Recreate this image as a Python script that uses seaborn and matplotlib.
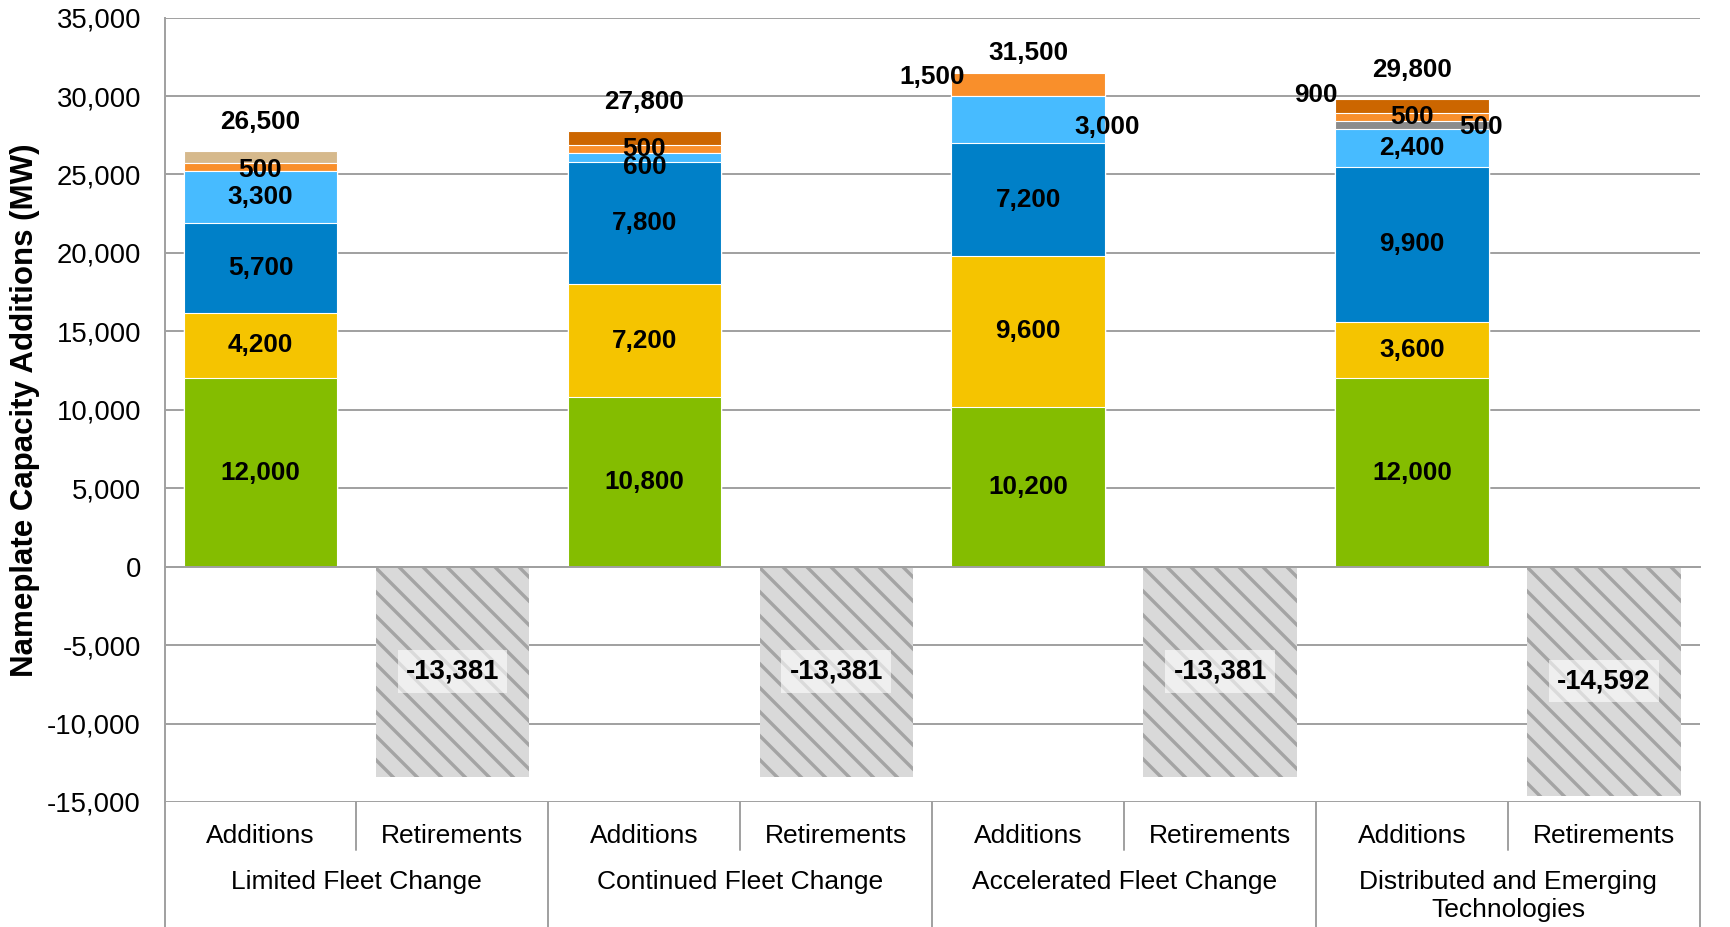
import matplotlib
matplotlib.use("Agg")
import matplotlib.pyplot as plt
import matplotlib.transforms as mtransforms
import pandas as pd
import seaborn as sns

# ---- data (MW) ----
scenarios = ["Limited Fleet Change", "Continued Fleet Change",
             "Accelerated Fleet Change", "Distributed and Emerging\nTechnologies"]
bar_kinds = ["Additions", "Retirements"]

# capacity additions, stacked bottom to top
wind = [12000, 10800, 10200, 12000]
solar = [4200, 7200, 9600, 3600]
combined_cycle = [5700, 7800, 7200, 9900]
combustion_turbine = [3300, 600, 3000, 2400]
storage = [0, 0, 0, 500]
demand_response = [500, 500, 1500, 500]
other_new = [0, 900, 0, 900]
uprates = [800, 0, 0, 0]
addition_totals = [26500, 27800, 31500, 29800]

retirements = [-13381, -13381, -13381, -14592]

y_ticks = list(range(-15000, 35001, 5000))

# ---- styling ----
layers = [wind, solar, combined_cycle, combustion_turbine, storage,
          demand_response, other_new, uprates]
layer_colors = ["#84bd00", "#f5c400", "#0080c8", "#47bbff", "#8c8c8c",
                "#f98f2b", "#cc6600", "#d6b98c"]
unlabeled = {(0, 7), (1, 6)}
# (scenario, layer): (dx in slots, dy in MW) nudges for crowded labels
label_nudge = {(0, 5): (0, -160), (1, 3): (0, -620),
               (2, 5): (-0.5, 460), (2, 3): (0.41, -470),
               (3, 6): (-0.5, 700), (3, 4): (0.36, -120)}
total_offset = [1840, 1800, 1240, 1890]

# rendered at 72 dpi so the hatch spacing is ~12 px; sizes below are given
# as if at 100 dpi and scaled by K
DPI = 72
K = 100 / DPI
FS_BAR = 18.8 * K
FS_TICK = 19.8 * K
FS_CAT = 19 * K
LW = 1.4 * K
GRID = "#a0a0a0"

sns.set_theme(style="white")
plt.rcParams["font.family"] = ["Liberation Sans", "DejaVu Sans"]
plt.rcParams["text.color"] = "black"
plt.rcParams["axes.unicode_minus"] = False
plt.rcParams["hatch.linewidth"] = 3.4

fig = plt.figure(figsize=(1730 / DPI, 927 / DPI), dpi=DPI)
ax = fig.add_axes([0.0951, 0.1349, 0.9827 - 0.0951, 0.981 - 0.1349])

slots = [f"{s}|{k}" for s in scenarios for k in bar_kinds]
add_slots = [f"{s}|Additions" for s in scenarios]
ret_slots = [f"{s}|Retirements" for s in scenarios]

# stacked additions: draw cumulative heights from the top layer down
cum = []
running = [0] * len(scenarios)
for vals in layers:
    running = [r + v for r, v in zip(running, vals)]
    cum.append(list(running))
for li in range(len(layers) - 1, -1, -1):
    df = pd.DataFrame({"slot": add_slots, "mw": cum[li]})
    sns.barplot(data=df, x="slot", y="mw", order=slots, color=layer_colors[li],
                saturation=1, width=0.8, errorbar=None, edgecolor="white",
                linewidth=0.8 * K, ax=ax, zorder=3)

# retirements, hatched
n_before = len(ax.patches)
df_ret = pd.DataFrame({"slot": ret_slots, "mw": retirements})
sns.barplot(data=df_ret, x="slot", y="mw", order=slots, color="#d9d9d9",
            saturation=1, width=0.8, errorbar=None, ax=ax, zorder=3)
for p in ax.patches[n_before:]:
    p.set_hatch("\\")
    p.set_edgecolor("#a4a4a4")
    p.set_linewidth(0)
    p.set_facecolor("#d9d9d9")

# ---- value labels ----
for si in range(len(scenarios)):
    x0 = 2 * si
    base = 0
    for li, vals in enumerate(layers):
        v = vals[si]
        if v and (si, li) not in unlabeled:
            dx, dy = label_nudge.get((si, li), (0, 0))
            ax.text(x0 + dx, base + v / 2 + dy, f"{v:,}", ha="center", va="center",
                    fontsize=FS_BAR, fontweight="bold", color="black", zorder=5)
        base += v
    ax.text(x0, addition_totals[si] + total_offset[si], f"{addition_totals[si]:,}",
            ha="center", va="center", fontsize=FS_BAR, fontweight="bold",
            color="black", zorder=5)
    r = retirements[si]
    ax.text(x0 + 1, r / 2, f"{r:,}", ha="center", va="center", fontsize=19.8 * K,
            fontweight="bold", color="black", zorder=5,
            bbox=dict(boxstyle="square,pad=0.3", fc="white", ec="none", alpha=0.6))

# ---- axes ----
ax.set_ylim(-15000, 35000)
ax.set_xlim(-0.5, len(slots) - 0.5)
ax.set_yticks(y_ticks)
ax.set_yticklabels([f"{t:,}" for t in y_ticks], fontsize=FS_TICK, color="black")
ax.tick_params(axis="y", length=0, pad=17 * K)
ax.yaxis.grid(True, color=GRID, linewidth=LW, zorder=0)
ax.set_axisbelow(True)
ax.set_ylabel("Nameplate Capacity Additions (MW)", fontsize=22.5 * K,
              fontweight="bold", color="black")
ax.yaxis.set_label_coords(-0.0814, 0.5)
ax.set_xlabel("")

for side in ["top", "right"]:
    ax.spines[side].set_visible(False)
ax.spines["left"].set_color(GRID)
ax.spines["left"].set_linewidth(LW)
ax.spines["bottom"].set_position(("data", 0))
ax.spines["bottom"].set_color(GRID)
ax.spines["bottom"].set_linewidth(LW)
ax.spines["bottom"].set_zorder(4)
ax.set_xticks([b - 0.5 for b in range(len(slots) + 1)])
ax.set_xticklabels([])
ax.tick_params(axis="x", direction="out", length=7 * K, width=LW, colors=GRID)

# two-level category labels beneath the plot
tr = mtransforms.blended_transform_factory(ax.transData, ax.transAxes)
for b in range(len(slots) + 1):
    xb = b - 0.5
    y_end = -0.16 if b % 2 == 0 else -0.0612
    ax.plot([xb, xb], [0, y_end], transform=tr, color=GRID, lw=LW,
            clip_on=False, zorder=4)
for i, s in enumerate(slots):
    ax.text(i, -0.0435, s.split("|")[1], transform=tr, ha="center", va="center",
            fontsize=FS_CAT, color="black")
for si, s in enumerate(scenarios):
    ax.text(2 * si + 0.5, -0.087, s, transform=tr, ha="center", va="top",
            fontsize=FS_CAT, color="black", linespacing=1.22)

fig.savefig("out.png", dpi=DPI)
